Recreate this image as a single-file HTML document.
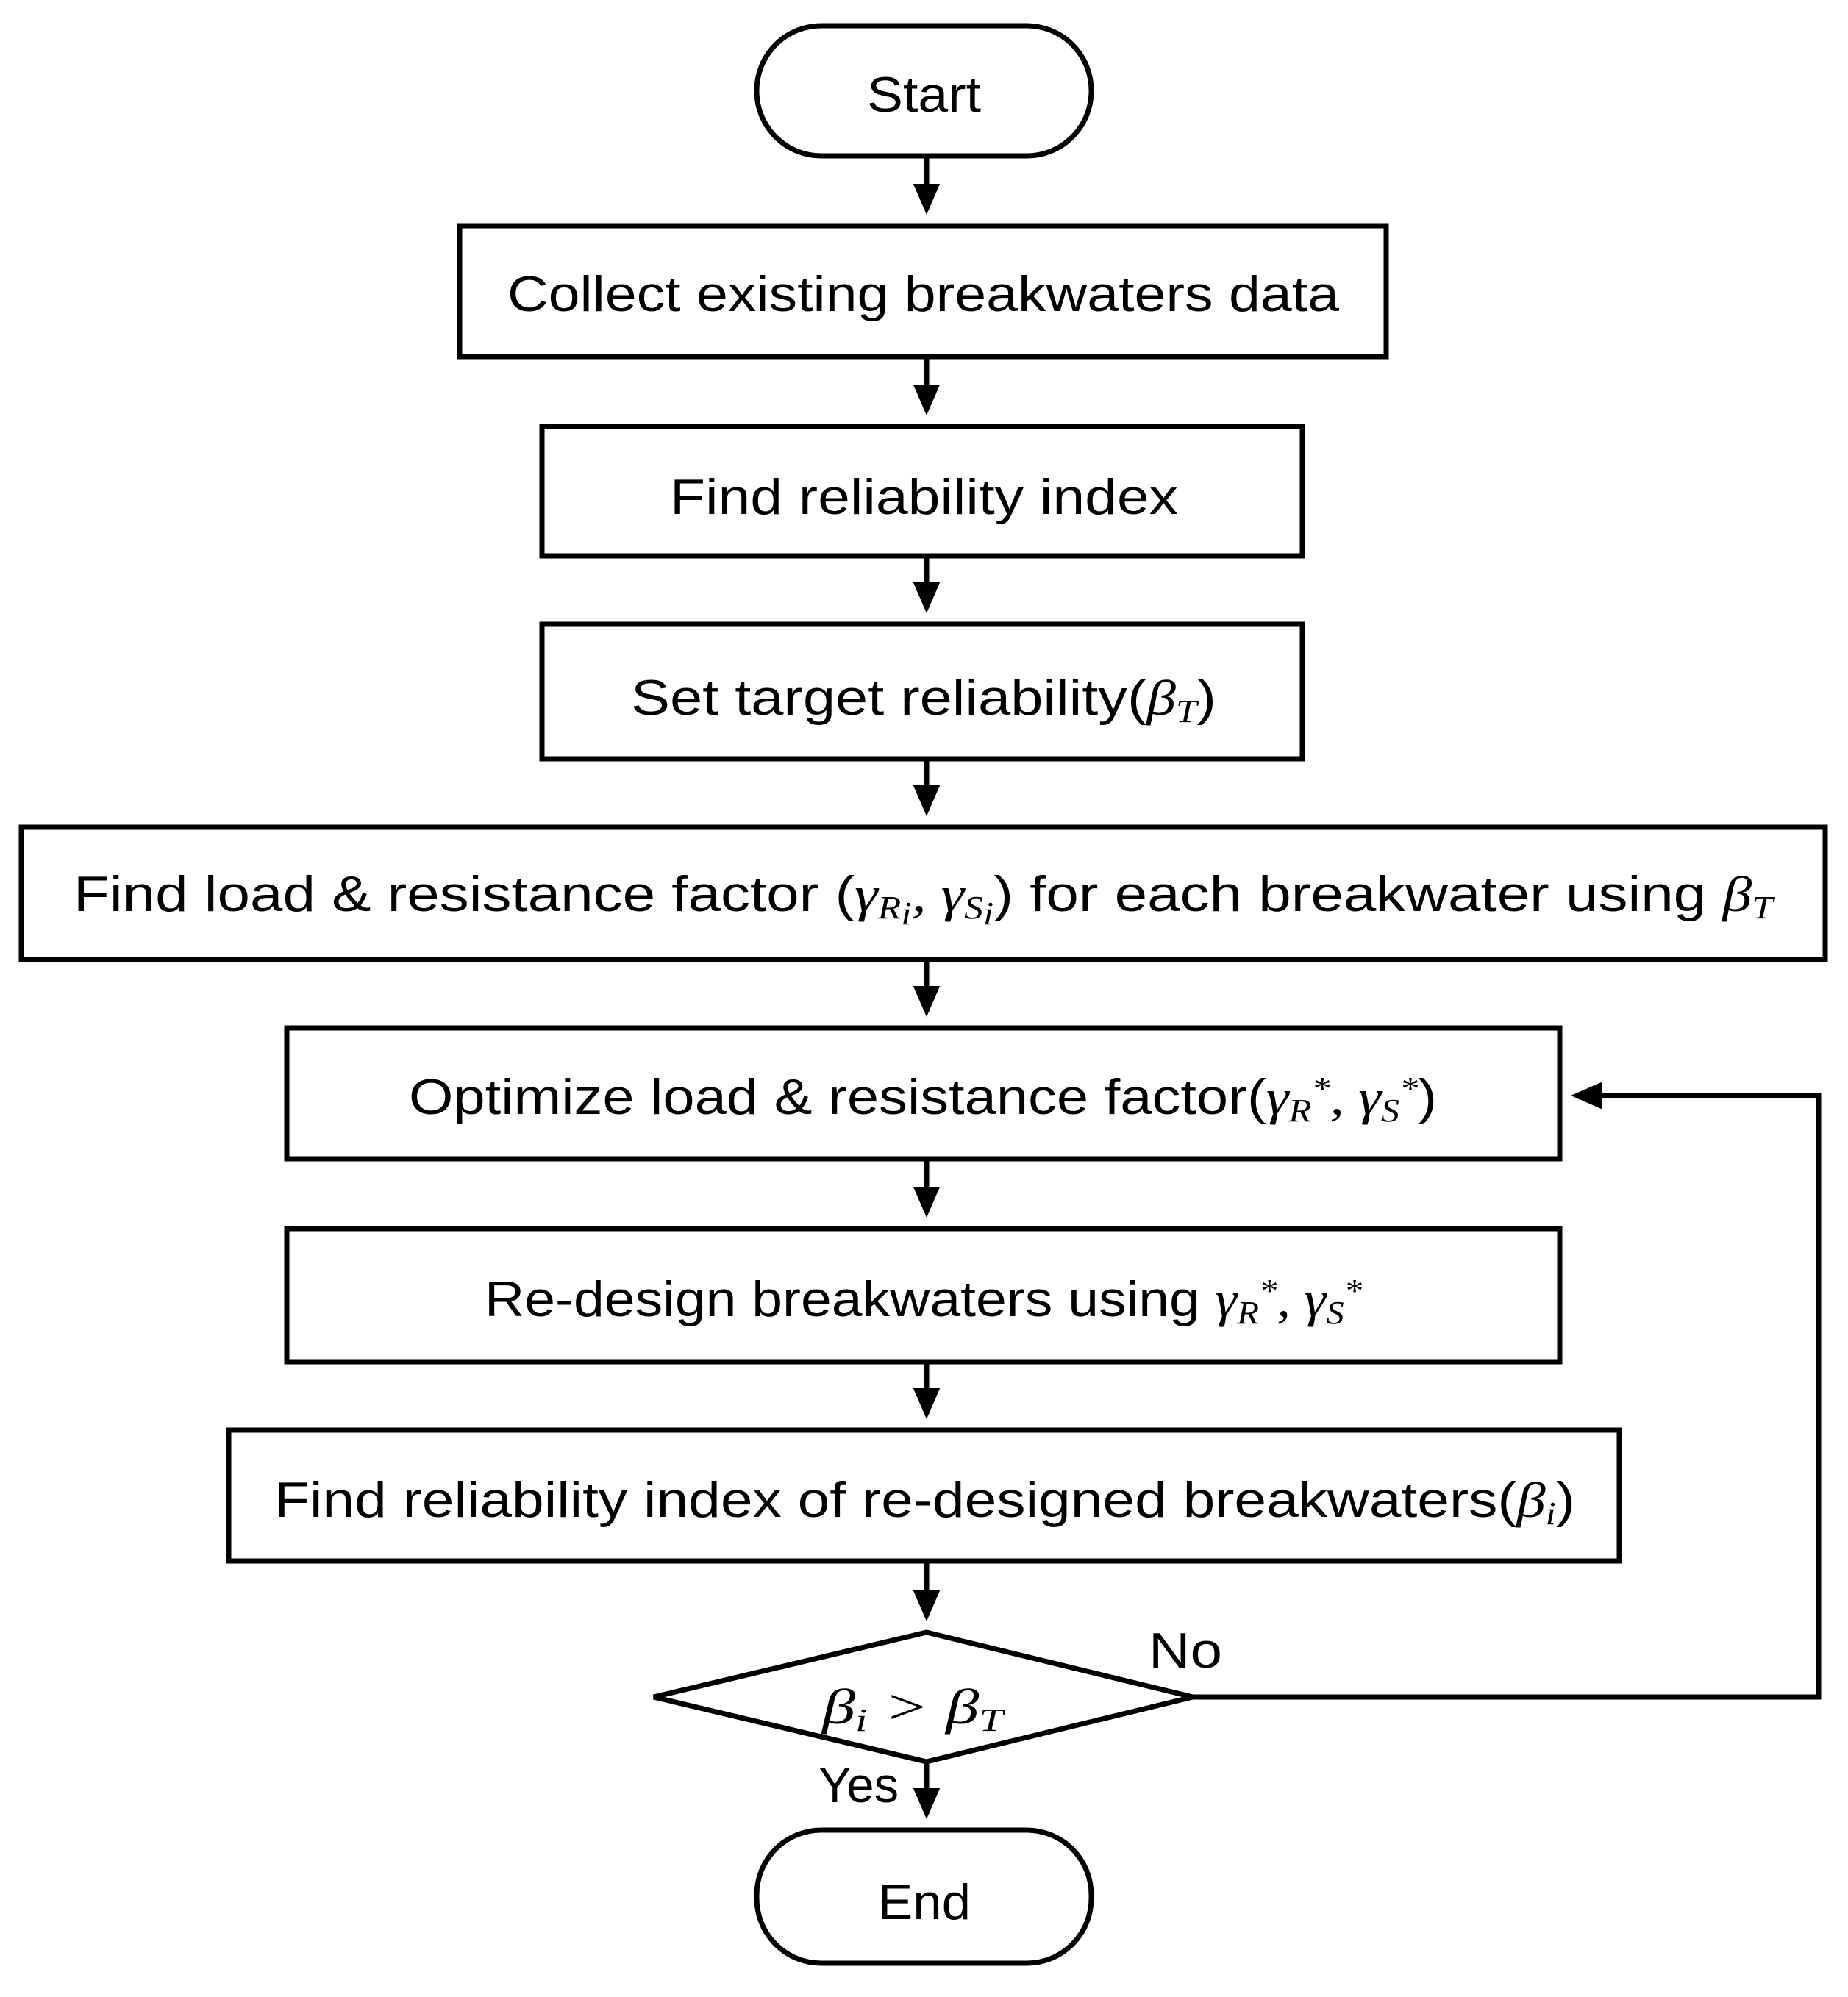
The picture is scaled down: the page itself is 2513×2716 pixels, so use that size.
<!DOCTYPE html>
<html><head><meta charset="utf-8"><style>
html,body{margin:0;padding:0;background:#fff}
svg{display:block}
text{font-family:"Liberation Sans","DejaVu Sans",sans-serif;font-size:68px;fill:#000}
.m{font-family:"Liberation Serif",serif;font-style:italic}
.s{font-family:"Liberation Serif",serif;font-style:italic;font-size:44px}
</style></head><body>
<svg width="2513" height="2716" viewBox="0 0 2513 2716" xmlns="http://www.w3.org/2000/svg">
<defs><marker id="a" markerWidth="6" markerHeight="6" refX="5" refY="3" orient="auto" markerUnits="strokeWidth"><path d="M0,0.4 L6,3 L0,5.6 z" fill="#000"/></marker></defs>
<g fill="none" stroke="#000" stroke-width="7">
<rect x="1029" y="35" width="455" height="177" rx="88"/>
<rect x="625" y="307" width="1260" height="178"/>
<rect x="737" y="580" width="1034" height="176"/>
<rect x="737" y="849" width="1034" height="183"/>
<rect x="29" y="1125" width="2453" height="180"/>
<rect x="390" y="1398" width="1731" height="178"/>
<rect x="390" y="1671" width="1731" height="181"/>
<rect x="311" y="1945" width="1891" height="178"/>
<polygon points="1260,2220 1622,2308 1260,2396 889,2308"/>
<rect x="1029" y="2489" width="455" height="181" rx="88"/>
<line x1="1260" y1="212" x2="1260" y2="285" marker-end="url(#a)"/>
<line x1="1260" y1="485" x2="1260" y2="558" marker-end="url(#a)"/>
<line x1="1260" y1="756" x2="1260" y2="827" marker-end="url(#a)"/>
<line x1="1260" y1="1032" x2="1260" y2="1103" marker-end="url(#a)"/>
<line x1="1260" y1="1305" x2="1260" y2="1376" marker-end="url(#a)"/>
<line x1="1260" y1="1576" x2="1260" y2="1649" marker-end="url(#a)"/>
<line x1="1260" y1="1852" x2="1260" y2="1923" marker-end="url(#a)"/>
<line x1="1260" y1="2123" x2="1260" y2="2198" marker-end="url(#a)"/>
<line x1="1260" y1="2396" x2="1260" y2="2467" marker-end="url(#a)"/>
<polyline points="1622,2308 2473,2308 2473,1490 2143,1490" marker-end="url(#a)"/>
</g>
<text x="1179" y="152" textLength="155" lengthAdjust="spacingAndGlyphs">Start</text>
<text x="690" y="423" textLength="1131" lengthAdjust="spacingAndGlyphs">Collect existing breakwaters data</text>
<text x="911" y="699" textLength="691" lengthAdjust="spacingAndGlyphs">Find reliability index</text>
<text x="858" y="972" textLength="796" lengthAdjust="spacingAndGlyphs">Set target reliability(<tspan class="m">β</tspan><tspan class="s" dy="10">T</tspan><tspan dy="-10">)</tspan></text>
<text x="100" y="1239" textLength="2311" lengthAdjust="spacingAndGlyphs">Find load &amp; resistance factor (<tspan class="m">γ</tspan><tspan class="s" dy="10">R</tspan><tspan class="s" dy="8" font-size="32">i</tspan><tspan class="m" dy="-18">, γ</tspan><tspan class="s" dy="10">S</tspan><tspan class="s" dy="8" font-size="32">i</tspan><tspan dy="-18">) for each breakwater using </tspan><tspan class="m">β</tspan><tspan class="s" dy="10">T</tspan></text>
<text x="556" y="1515" textLength="1398" lengthAdjust="spacingAndGlyphs">Optimize load &amp; resistance factor(<tspan class="m">γ</tspan><tspan class="s" dy="10">R</tspan><tspan class="s" dy="-30">*</tspan><tspan class="m" dy="20">, γ</tspan><tspan class="s" dy="10">S</tspan><tspan class="s" dy="-30">*</tspan><tspan dy="20">)</tspan></text>
<text x="659" y="1790" textLength="1193" lengthAdjust="spacingAndGlyphs">Re-design breakwaters using <tspan class="m">γ</tspan><tspan class="s" dy="10">R</tspan><tspan class="s" dy="-30">*</tspan><tspan class="m" dy="20">, γ</tspan><tspan class="s" dy="10">S</tspan><tspan class="s" dy="-30">*</tspan></text>
<text x="373" y="2063" textLength="1769" lengthAdjust="spacingAndGlyphs">Find reliability index of re-designed breakwaters(<tspan class="m">β</tspan><tspan class="s" dy="10">i</tspan><tspan dy="-10">)</tspan></text>
<text x="1118" y="2344" textLength="246" lengthAdjust="spacingAndGlyphs"><tspan class="m">β</tspan><tspan class="s" dy="10">i</tspan><tspan class="m" dy="-10"> &gt; β</tspan><tspan class="s" dy="10">T</tspan></text>
<text x="1562" y="2268" textLength="100" lengthAdjust="spacingAndGlyphs">No</text>
<text x="1113" y="2451" textLength="109" lengthAdjust="spacingAndGlyphs">Yes</text>
<text x="1194" y="2610" textLength="126" lengthAdjust="spacingAndGlyphs">End</text>
</svg>
</body></html>
